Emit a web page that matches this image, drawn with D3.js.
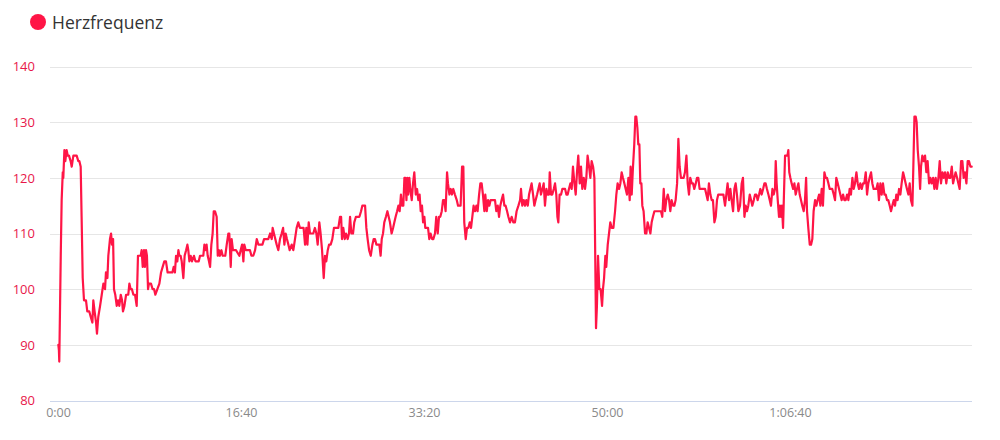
<!DOCTYPE html>
<html><head><meta charset="utf-8">
<script src="https://cdn.jsdelivr.net/npm/d3@7"></script>
<style>body{margin:0;background:#fff;font-family:"Open Sans",sans-serif;}</style>
</head><body><svg id="c" width="1000" height="440"></svg>
<script>
const seriesName = "Herzfrequenz";
const yTicks = [80, 90, 100, 110, 120, 130, 140];
const xTicks = [0, 1000, 2000, 3000, 4000];
const seconds = [2,5,7,15,20,26,29,35,40,47,53,60,69,75,84,102,111,117,124,129,135,142,153,160,171,179,188,193,200,208,213,220,230,239,248,257,262,270,275,284,290,295,301,306,313,321,328,335,343,350,355,363,372,384,390,397,404,412,421,430,437,445,452,457,463,470,475,481,486,492,497,508,517,525,532,543,554,563,572,581,590,599,612,625,632,639,645,652,658,663,670,676,685,692,700,707,712,718,725,732,743,751,758,769,776,785,794,800,805,812,818,825,831,838,845,851,858,867,873,880,885,893,900,907,914,922,931,936,944,949,956,973,991,998,1006,1013,1018,1026,1042,1049,1057,1067,1077,1086,1095,1117,1126,1149,1159,1168,1173,1180,
1195,1204,1213,1222,1230,1237,1244,1251,1259,1266,1277,1286,1295,1304,1313,1322,1332,1342,1350,1357,1363,1370,1377,1386,1395,1404,1412,1419,1428,1435,1443,1452,1459,1466,1474,1481,1490,1499,1508,1517,1525,1532,1541,1547,1552,1559,1567,1574,1583,1590,1596,1603,1612,1619,1628,1638,1647,1656,1663,1670,1678,1685,1692,1700,1709,1718,1725,1732,1740,1747,1756,1763,1769,1776,1783,1792,1800,1807,1814,1823,1831,1838,1845,1853,1860,1867,1874,1880,1887,1893,1898,1904,1909,1914,1920,1925,1933,1940,1947,1955,1962,1969,1976,1982,1989,1995,2002,2007,2015,2022,2029,2036,2044,2051,2060,2067,2075,2082,2089,2097,2104,2111,2118,2126,2131,2139,2146,2153,2160,2169,2179,2186,2193,2200,2208,2215,2220,2228,2235,2242,2250,2257,2264,2271,2279,2286,2293,2301,2308,2315,2322,2330,2335,2343,2350,2357,2364,2372,2379,2388,2395,2403,2410,2417,2424,2432,2439,2446,2454,2461,2470,
2479,2488,2497,2506,2516,2525,2530,2537,2545,2552,2559,2567,2574,2581,2588,2596,2603,2610,2618,2625,2632,2639,2647,2654,2661,2669,2676,2683,2687,2694,2701,2709,2716,2723,2729,2734,2741,2749,2756,2771,2778,2785,2792,2800,2807,2814,2822,2829,2836,2843,2851,2858,2865,2873,2880,2887,2894,2902,2909,2916,2924,2931,2936,2940,2945,2951,2958,2965,2973,2978,2984,2991,2996,3004,3011,3018,3026,3035,3044,3051,3058,3066,3073,3080,3087,3095,3102,3109,3117,3124,3129,3135,3142,3149,3155,3160,3166,3171,3177,3182,3188,3193,3200,3208,3215,3222,3230,3237,3244,3251,3259,3266,3295,3302,3310,3317,3324,3332,3339,3346,3353,3361,3368,3375,3383,3390,3397,3404,3419,3426,3434,3441,3448,3455,3463,3470,3477,3485,3492,3499,3506,3536,3543,3550,3557,3565,3572,3579,3587,3594,3601,3608,3636,3645,3652,3659,3667,3674,3681,3689,3696,3703,3710,3718,3727,
3736,3743,3751,3758,3765,3772,3780,3787,3794,3802,3809,3816,3823,3831,3838,3845,3853,3860,3867,3874,3882,3889,3896,3904,3911,3918,3922,3927,3933,3940,3945,3951,3956,3962,3967,3973,3980,3986,3991,3996,4002,4009,4017,4024,4031,4038,4046,4053,4060,4067,4075,4082,4088,4093,4100,4108,4115,4122,4129,4137,4144,4151,4159,4166,4173,4180,4188,4195,4202,4210,4217,4231,4239,4246,4253,4261,4268,4275,4282,4290,4297,4304,4312,4319,4326,4333,4341,4348,4355,4363,4370,4377,4384,4392,4399,4406,4414,4421,4428,4435,4443,4450,4457,4472,4479,4486,4494,4501,4508,4516,4523,4530,4537,4545,4552,4559,4567,4574,4581,4588,4596,4603,4610,4618,4625,4632,4639,4647,4654,4661,4669,4674,4680,4687,4692,4698,4705,4711,4716,4723,4731,4738,4745,4752,4760,4767,4774,4782,4789,4796,4803,4811,4818,4825,4833,4840,4847,4854,4862,4869,4876,4884,4891,4898,4905,4913,4920,4927,4935,4942,4949,4956,4964,4971,4978,4986,4993];
const heartRate = [90,89,87,106,116,121,120,125,123,125,124,124,123,122,124,124,123,123,122,113,102,98,98,96,96,95,94,98,96,94,92,95,97,99,101,100,103,102,106,109,110,108,109,100,99,97,98,97,99,98,96,97,99,99,101,100,100,99,99,97,106,106,106,107,104,107,104,107,106,100,101,101,100,100,99,100,101,103,104,105,105,103,103,103,104,103,106,105,107,106,106,105,102,106,107,108,107,105,106,105,106,105,105,105,106,106,106,108,107,108,106,105,104,108,110,114,114,113,106,107,106,107,106,106,106,108,110,110,104,109,107,107,106,107,108,105,108,107,107,107,106,106,107,109,108,108,109,109,110,109,111,110,
108,107,109,110,111,108,110,109,108,107,108,107,109,111,112,111,111,111,108,111,108,112,110,110,110,111,110,108,112,110,107,102,106,105,107,108,108,109,111,111,111,111,113,113,109,111,109,110,109,110,113,110,110,112,113,113,113,114,115,115,115,111,109,107,106,108,109,109,108,108,108,106,109,110,112,113,114,113,112,110,111,112,113,114,115,114,117,115,115,120,120,116,120,117,120,118,116,119,121,117,118,116,117,114,115,112,113,111,111,111,109,110,109,109,110,113,110,113,113,114,116,116,114,121,119,117,118,117,118,117,116,115,115,115,122,122,112,109,111,111,112,111,113,115,114,115,114,117,119,119,117,114,117,114,116,115,116,116,116,116,114,115,113,115,116,117,115,115,114,113,112,
113,112,112,114,115,116,118,115,116,115,116,115,117,118,119,117,115,116,117,118,119,117,118,119,115,118,117,117,121,117,117,118,119,117,113,112,117,117,118,118,117,117,118,119,118,122,119,117,121,124,119,122,118,120,118,120,124,122,120,123,122,120,105,93,97,106,100,100,97,100,102,106,104,108,110,112,111,111,114,117,119,118,119,121,120,119,118,117,120,116,122,117,122,126,131,131,129,126,126,119,119,115,114,110,110,112,111,110,112,113,114,114,114,113,118,114,116,117,116,114,116,115,115,116,119,127,122,120,120,121,124,119,117,120,119,119,118,119,120,120,118,118,117,116,119,117,116,116,112,113,116,117,117,115,117,119,116,118,116,114,118,119,117,114,115,
119,120,113,115,114,115,117,116,115,116,117,117,116,117,118,117,118,119,119,118,117,116,115,118,117,118,123,119,116,113,115,113,115,111,117,124,124,124,125,121,120,119,118,119,117,118,119,117,116,115,114,116,120,114,111,108,108,109,114,116,115,116,117,115,118,115,121,120,120,119,118,118,117,116,120,119,118,117,116,117,116,116,117,116,118,117,120,118,119,121,119,118,119,118,119,119,121,117,119,120,121,119,118,118,119,116,119,117,119,117,117,116,116,115,114,115,116,115,117,116,118,117,119,121,120,119,118,117,119,116,115,122,131,131,130,125,122,118,122,124,123,124,121,123,119,120,119,120,118,120,118,120,123,119,121,120,121,119,121,120,120,122,119,120,121,120,119,118,123,123,120,121,119,123,123,122,122];

const data = seconds.map((s, i) => ({ t: s, v: heartRate[i] }));

const svg = d3.select("#c");
const x = d3.scaleLinear().domain([0, 5000]).range([58, 973]);
const y = d3.scaleLinear().domain([80, 140]).range([400.5, 66.5]);
const gridLeft = 50, gridRight = 972;

function fmt(s) {
  const h = Math.floor(s / 3600), m = Math.floor((s % 3600) / 60), sec = Math.round(s % 60);
  const ss = String(sec).padStart(2, "0");
  return h > 0 ? `${h}:${String(m).padStart(2, "0")}:${ss}` : `${m}:${ss}`;
}

// grid lines
svg.append("g").selectAll("line").data(yTicks).join("line")
  .attr("x1", gridLeft).attr("x2", gridRight)
  .attr("y1", d => Math.round(y(d)) + 0.5).attr("y2", d => Math.round(y(d)) + 0.5)
  .attr("stroke", d => d === 80 ? "#ccd6eb" : "#e6e6e6").attr("stroke-width", 1);

// y labels
const yAxis = d3.axisLeft(y).tickValues(yTicks).tickSize(0).tickPadding(0);
const gy = svg.append("g").attr("transform", "translate(35,0)").call(yAxis);
gy.select(".domain").remove();
gy.selectAll("text").attr("fill", "#e8174a").style("font-family", "'Open Sans', sans-serif").style("font-size", "13px");

// x labels
const xAxis = d3.axisBottom(x).tickValues(xTicks).tickFormat(fmt).tickSize(0).tickPadding(0);
const gx = svg.append("g").attr("transform", "translate(0,408)").call(xAxis);
gx.select(".domain").remove();
gx.selectAll("text").attr("fill", "#8a8a8a").style("font-family", "'Open Sans', sans-serif").style("font-size", "12.5px");

// line
svg.append("path").datum(data)
  .attr("fill", "none").attr("stroke", "#ff1546").attr("stroke-width", 2.2)
  .attr("stroke-linejoin", "round").attr("stroke-linecap", "round")
  .attr("d", d3.line().x(d => x(d.t)).y(d => y(d.v)));

// legend
const lg = svg.append("g");
lg.append("circle").attr("cx", 38).attr("cy", 22).attr("r", 8).attr("fill", "#ff1546");
lg.append("text").attr("x", 52).attr("y", 28.5).text(seriesName)
  .attr("fill", "#333").style("font-family", "'Open Sans', sans-serif").style("font-size", "17.5px");
</script></body></html>
